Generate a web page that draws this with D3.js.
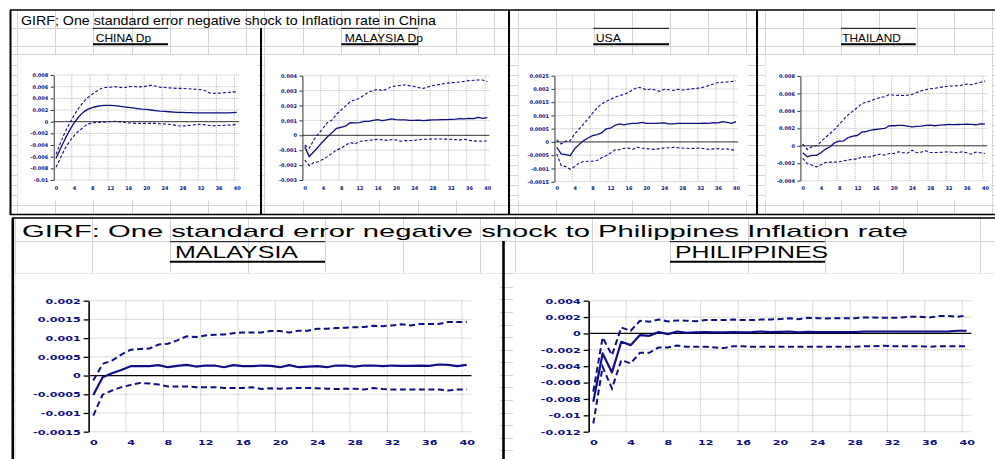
<!DOCTYPE html>
<html><head><meta charset="utf-8">
<script src="https://cdn.jsdelivr.net/npm/d3@7"></script>
<style>
html,body{margin:0;padding:0;background:#fff;}
svg{display:block;}
</style></head><body>
<svg id="c" width="995" height="459"></svg>
<script>
// ---------------- DATA ----------------
const periods = [0,1,2,3,4,5,6,7,8,9,10,11,12,13,14,15,16,17,18,19,20,21,22,23,24,25,26,27,28,29,30,31,32,33,34,35,36,37,38,39,40];
const xTickLabels = ["0","4","8","12","16","20","24","28","32","36","40"];
const topTitle = "GIRF; One standard error negative shock to Inflation rate in China";
const bottomTitle = "GIRF: One standard error negative shock to Philippines Inflation rate";

const chinaTicks = ["0.008","0.006","0.004","0.002","0","-0.002","-0.004","-0.006","-0.008","-0.01"];
const malaysiaDpTicks = ["0.004","0.003","0.002","0.001","0","-0.001","-0.002","-0.003"];
const usaTicks = ["0.0025","0.002","0.0015","0.001","0.0005","0","-0.0005","-0.001","-0.0015"];
const thailandTicks = ["0.008","0.006","0.004","0.002","0","-0.002","-0.004"];
const malaysiaTicks = ["0.002","0.0015","0.001","0.0005","0","-0.0005","-0.001","-0.0015"];
const philippinesTicks = ["0.004","0.002","0","-0.002","-0.004","-0.006","-0.008","-0.01","-0.012"];

const chinaMid = [-0.0063,-0.0046,-0.003,-0.0015,-0.0002,0.0008,0.0016,0.0021,0.0024,0.0026,0.00275,0.0028,0.0028,0.00275,0.00265,0.00255,0.00245,0.00235,0.00225,0.00215,0.0021,0.002,0.0019,0.0018,0.00175,0.0017,0.00165,0.0016,0.0016,0.00155,0.00155,0.0015,0.0015,0.0015,0.0015,0.0015,0.0015,0.0015,0.0015,0.00155,0.0016];
const chinaUp = [-0.0056,-0.0036,-0.0018,-0.0003,0.0011,0.0023,0.0033,0.0041,0.0047,0.0052,0.0057,0.00585,0.0059,0.006,0.0059,0.0058,0.006,0.00605,0.00595,0.006,0.0061,0.00625,0.0061,0.0059,0.00585,0.0058,0.00575,0.0057,0.0057,0.00565,0.0056,0.00555,0.0055,0.0053,0.0049,0.00485,0.0049,0.00495,0.005,0.0051,0.0051];
const chinaLo = [-0.0078,-0.0062,-0.0046,-0.0034,-0.0024,-0.0016,-0.001,-0.0004,-0.0002,-0.00015,-0.0001,-0.00005,0,0.00005,0,-0.0001,-0.0002,-0.00025,-0.0003,-0.0003,-0.0003,-0.0003,-0.0003,-0.00035,-0.0004,-0.00045,-0.00055,-0.0007,-0.00075,-0.0007,-0.0006,-0.0005,-0.00045,-0.00055,-0.00065,-0.0007,-0.00065,-0.00065,-0.0006,-0.00055,-0.0005];

const malaysiaDpMid = [-0.00076,-0.00143,-0.0011,-0.00076,-0.00042,-0.0001,0.00018,0.00047,0.00054,0.00063,0.00085,0.00084,0.00085,0.00094,0.00093,0.001,0.00105,0.00098,0.00104,0.0011,0.00105,0.00103,0.00103,0.001,0.001,0.00102,0.00098,0.00101,0.00103,0.00104,0.00105,0.00105,0.00107,0.00108,0.00112,0.0011,0.00114,0.00112,0.0012,0.00114,0.00118];
const malaysiaDpUp = [-0.00065,-0.00087,-0.0003,0.0001,0.00047,0.00085,0.00103,0.00143,0.0017,0.00197,0.00226,0.00237,0.00248,0.0027,0.0029,0.003,0.00309,0.003,0.00309,0.00327,0.00331,0.00335,0.00338,0.00333,0.00327,0.0032,0.00315,0.00325,0.00333,0.00338,0.00344,0.00349,0.00353,0.00355,0.00358,0.00362,0.00367,0.00369,0.00371,0.00371,0.0036];
const malaysiaDpLo = [-0.00166,-0.00204,-0.00183,-0.00177,-0.00161,-0.00143,-0.0012,-0.00098,-0.00087,-0.00065,-0.00049,-0.00058,-0.00042,-0.00036,-0.00034,-0.0003,-0.00027,-0.00031,-0.00034,-0.00029,-0.00031,-0.0004,-0.00036,-0.00035,-0.00034,-0.0003,-0.00027,-0.00026,-0.00025,-0.00025,-0.00025,-0.00026,-0.00027,-0.00029,-0.00031,-0.00027,-0.00034,-0.00037,-0.0004,-0.00039,-0.00038];

const usaMid = [-0.0002,-0.00045,-0.00048,-0.00052,-0.00026,-0.0001,0.00005,0.00015,0.00024,0.00028,0.00034,0.00049,0.00052,0.00063,0.00068,0.00064,0.00068,0.0007,0.0007,0.00074,0.0007,0.0007,0.0007,0.00071,0.00072,0.00068,0.00068,0.0007,0.0007,0.0007,0.0007,0.0007,0.0007,0.00071,0.0007,0.00073,0.00072,0.00077,0.00074,0.0007,0.00077];
const usaUp = [0.00008,-0.00008,0.00003,0.00005,0.0003,0.00049,0.00068,0.00087,0.00109,0.00128,0.00143,0.00153,0.0016,0.00169,0.00175,0.00179,0.00187,0.00197,0.00206,0.00204,0.00196,0.002,0.00196,0.00191,0.00199,0.00197,0.00194,0.00199,0.00196,0.00198,0.002,0.00202,0.00204,0.00208,0.00213,0.00219,0.00224,0.00225,0.00226,0.00228,0.00231];
const usaLo = [-0.00045,-0.00089,-0.00093,-0.00103,-0.00093,-0.0008,-0.00074,-0.00073,-0.00073,-0.0007,-0.0006,-0.00052,-0.00042,-0.0003,-0.00029,-0.00024,-0.00023,-0.00028,-0.0002,-0.00023,-0.00025,-0.00027,-0.00028,-0.00025,-0.00023,-0.00022,-0.0002,-0.00022,-0.00023,-0.00024,-0.00025,-0.00024,-0.00023,-0.00026,-0.00028,-0.00026,-0.00025,-0.00027,-0.00026,-0.00029,-0.00033];

const thailandMid = [-0.0008,-0.00126,-0.0011,-0.0011,-0.0008,-0.00038,-0.00011,0.00034,0.00053,0.00057,0.00095,0.0011,0.00118,0.00157,0.00164,0.0018,0.00187,0.00195,0.00199,0.0023,0.0023,0.00233,0.00233,0.00225,0.00218,0.00222,0.00225,0.00233,0.00237,0.0023,0.00237,0.0024,0.00244,0.00242,0.00244,0.00246,0.00248,0.00245,0.00241,0.00252,0.00248];
const thailandUp = [0.00019,-0.00042,-0.00011,0,0.00046,0.00096,0.00141,0.00187,0.00248,0.00302,0.00355,0.00397,0.00439,0.00485,0.005,0.00516,0.00539,0.00554,0.00562,0.00588,0.0058,0.00578,0.00577,0.0058,0.00588,0.0061,0.0063,0.00642,0.00653,0.0066,0.00669,0.00677,0.00684,0.00686,0.00688,0.00695,0.00707,0.007,0.00715,0.00728,0.00741];
const thailandLo = [-0.00145,-0.00203,-0.00222,-0.00241,-0.00218,-0.00191,-0.00187,-0.00187,-0.00183,-0.00172,-0.00164,-0.00153,-0.00153,-0.00126,-0.0013,-0.00126,-0.00107,-0.00096,-0.00107,-0.00088,-0.00088,-0.00069,-0.0008,-0.00084,-0.0005,-0.0008,-0.00073,-0.00057,-0.00076,-0.00076,-0.00076,-0.00072,-0.00069,-0.00075,-0.0008,-0.00069,-0.0008,-0.00096,-0.00073,-0.0008,-0.00088];

const malaysiaMid = [-0.00052,-0.000045,0.00006,0.00015,0.00025,0.00025,0.00025,0.000277,0.000223,0.000259,0.000286,0.000241,0.000268,0.000268,0.000223,0.000277,0.00025,0.00025,0.000268,0.000259,0.000223,0.000277,0.000223,0.000241,0.00025,0.000223,0.000268,0.000268,0.000241,0.000268,0.000268,0.00025,0.000268,0.000259,0.000259,0.000268,0.000259,0.000295,0.000286,0.00025,0.000286];
const malaysiaUp = [-0.00013,0.00031,0.0004,0.00056,0.00069,0.00071,0.00072,0.00083,0.00085,0.00094,0.00105,0.00103,0.00107,0.00109,0.0011,0.00113,0.00115,0.00115,0.00115,0.00119,0.00119,0.00115,0.0012,0.0012,0.00125,0.00125,0.00127,0.00128,0.00129,0.0013,0.00133,0.00132,0.00134,0.00137,0.00134,0.00138,0.00138,0.00138,0.00143,0.00143,0.00143];
const malaysiaLo = [-0.00107,-0.00051,-0.0004,-0.00031,-0.00025,-0.0002,-0.00021,-0.00024,-0.00029,-0.00029,-0.00029,-0.00031,-0.00031,-0.00031,-0.00033,-0.00033,-0.00033,-0.00031,-0.00036,-0.00034,-0.00035,-0.00034,-0.00033,-0.00033,-0.00034,-0.00035,-0.00036,-0.00035,-0.00035,-0.000375,-0.00033,-0.00036,-0.000375,-0.00037,-0.000375,-0.000375,-0.000375,-0.000375,-0.0004,-0.000375,-0.000375];

const philippinesMid = [-0.00835,-0.00244,-0.00476,-0.00102,-0.00143,-0.0002,-0.00029,0.00016,-0.00008,0.00024,0.00008,0.00012,0.00016,0.00012,0.00012,0.00016,0.00012,0.00016,0.00024,0.00016,0.0002,0.00024,0.00012,0.0002,0.00016,0.00016,0.00016,0.00016,0.00016,0.00024,0.00024,0.00024,0.00024,0.00024,0.00024,0.00024,0.00024,0.00024,0.00024,0.00033,0.00033];
const philippinesUp = [-0.0071,-0.00049,-0.00265,0.00073,0.00033,0.00155,0.00143,0.00171,0.00147,0.00159,0.00155,0.0015,0.00163,0.00163,0.00163,0.00171,0.00163,0.00163,0.00171,0.00171,0.00175,0.00187,0.00175,0.00191,0.00187,0.00183,0.00187,0.00187,0.00187,0.00195,0.00195,0.00191,0.00191,0.00195,0.00204,0.00204,0.00195,0.00212,0.00212,0.00204,0.0022];
const philippinesLo = [-0.011,-0.00407,-0.00672,-0.00326,-0.00366,-0.00236,-0.00236,-0.00171,-0.00171,-0.00147,-0.00163,-0.00163,-0.00163,-0.00171,-0.00179,-0.00155,-0.00155,-0.00163,-0.00163,-0.00163,-0.00163,-0.00163,-0.00163,-0.00163,-0.00163,-0.00163,-0.00163,-0.00163,-0.00163,-0.00155,-0.00155,-0.00151,-0.00155,-0.00155,-0.00155,-0.00155,-0.00163,-0.00155,-0.00155,-0.00155,-0.00155];

// ---------------- LAYOUT ----------------
const svg = d3.select("#c");
const NAVY = "#0e0e86";
const GRIDC = "#d4d4d4";
const SANS = "'Liberation Sans', Arial, sans-serif";
const BOLD = "'DejaVu Sans', Verdana, sans-serif";

// spreadsheet background grid
const sheet = svg.append("g").attr("stroke", GRIDC).attr("stroke-width", 1).attr("shape-rendering","crispEdges");
const topRows = [28, 46.5, 54.5];
for (let k = 0; k <= 14; k++) topRows.push(65 + 10.05 * k);
topRows.forEach(yy => sheet.append("line").attr("x1",10).attr("x2",995).attr("y1",yy).attr("y2",yy));
const topCols = [17,55.3,93.6,132,170,208.3,246.7, 264.7,303,341.3,379.7,418,456.3,494.7, 518.3,556.7,594.3,632,670,708.3,746, 765,803.3,841.3,879.3,917,954.3,992.3];
topCols.forEach(xx => sheet.append("line").attr("x1",xx).attr("x2",xx).attr("y1",10).attr("y2",214));
const botRows = [241.7, 273];
for (let k = 0; k <= 13; k++) botRows.push(287.3 + 12.57 * k);
botRows.forEach(yy => sheet.append("line").attr("x1",12).attr("x2",995).attr("y1",yy).attr("y2",yy));
const botCols = [15,92.7,170,248.3,325,403.3,480, 515,592.7,670,748.3,825,903.3,980];
botCols.forEach(xx => sheet.append("line").attr("x1",xx).attr("x2",xx).attr("y1",218).attr("y2",459));

// white chart areas
const areas = [[17.5,55,258,200],[266,55,507,200],[518.5,55,748,200],[765.5,55,992,200],[15.5,273.5,500,459],[513,273.5,995,459]];
areas.forEach(a => svg.append("rect").attr("x",a[0]).attr("y",a[1]).attr("width",a[2]-a[0]).attr("height",a[3]-a[1]).attr("fill","#fff"));

const panels = [
  {name:"CHINA Dp", ticks:chinaTicks, mid:chinaMid, up:chinaUp, lo:chinaLo, x0:56, x40:236.7, yTop:75, yBot:180, fs:5, sx:1, tick:3, xLabY:188.3, big:false},
  {name:"MALAYSIA Dp", ticks:malaysiaDpTicks, mid:malaysiaDpMid, up:malaysiaDpUp, lo:malaysiaDpLo, x0:304.7, x40:487.3, yTop:75.7, yBot:180, fs:5, sx:1, tick:3, xLabY:188.3, big:false},
  {name:"USA", ticks:usaTicks, mid:usaMid, up:usaUp, lo:usaLo, x0:556.7, x40:736, yTop:75.7, yBot:181.7, fs:5, sx:1, tick:3, xLabY:188.3, big:false},
  {name:"THAILAND", ticks:thailandTicks, mid:thailandMid, up:thailandUp, lo:thailandLo, x0:802.7, x40:985, yTop:76, yBot:180.7, fs:5, sx:1, tick:3, xLabY:188.3, big:false},
  {name:"MALAYSIA", ticks:malaysiaTicks, mid:malaysiaMid, up:malaysiaUp, lo:malaysiaLo, x0:93.3, x40:466.7, yTop:300.7, yBot:431.7, fs:7.2, sx:1.55, tick:5, xLabY:442.3, big:true},
  {name:"PHILIPPINES", ticks:philippinesTicks, mid:philippinesMid, up:philippinesUp, lo:philippinesLo, x0:593.3, x40:966.7, yTop:300.7, yBot:431.7, fs:7.2, sx:1.55, tick:5, xLabY:442.3, big:true}
];

function drawChart(p) {
  const g = svg.append("g");
  const x = d3.scaleLinear().domain([0, 40]).range([p.x0, p.x40]);
  const tv = p.ticks.map(Number);
  const y = d3.scaleLinear().domain([d3.min(tv), d3.max(tv)]).range([p.yBot, p.yTop]);
  const xL = x(-0.5), xR = x(40.5);

  // dotted gridlines
  const gg = g.append("g").attr("stroke", "#a8a8a8").attr("stroke-width", 0.8).attr("stroke-dasharray", "1,1");
  tv.forEach(v => { if (v !== 0) gg.append("line").attr("x1", xL).attr("x2", xR).attr("y1", y(v)).attr("y2", y(v)); });
  for (let k = 1; k <= 10; k++) {
    const xv = x(-0.5 + 4 * k);
    gg.append("line").attr("x1", xv).attr("x2", xv).attr("y1", p.yTop).attr("y2", p.yBot);
  }

  // zero axis line
  g.append("line").attr("x1", xL).attr("x2", xR).attr("y1", y(0)).attr("y2", y(0))
    .attr("stroke", p.big ? "#000" : "#333").attr("stroke-width", p.big ? 1.2 : 1);

  // y axis
  const pad = p.big ? 3 : 2.5;
  const ya = g.append("g").attr("transform", `translate(${xL},0)`)
    .call(d3.axisLeft(y).tickValues(tv).tickFormat((d, i) => p.ticks[i]).tickSize(p.tick).tickSizeOuter(0).tickPadding(pad));
  ya.select(".domain").attr("stroke", p.big ? "#000" : "#333").attr("stroke-width", p.big ? 1.6 : 1);
  ya.selectAll(".tick line").attr("stroke", p.big ? "#000" : "#333").attr("stroke-width", p.big ? 1.3 : 1);
  ya.selectAll(".tick text")
    .attr("fill", NAVY).attr("font-family", BOLD).attr("font-weight", "bold").attr("font-size", p.fs)
    .attr("x", -(p.tick + pad) / p.sx).attr("transform", `scale(${p.sx},1)`);

  // x axis labels (bottom)
  const xa = g.append("g").attr("transform", `translate(0,${p.yBot})`)
    .call(d3.axisBottom(x).tickValues(xTickLabels.map(Number)).tickFormat((d, i) => xTickLabels[i]).tickSize(0).tickPadding(p.xLabY - p.yBot - 0.36 * p.fs));
  xa.select(".domain").remove();
  xa.selectAll(".tick text")
    .attr("fill", NAVY).attr("font-family", BOLD).attr("font-weight", "bold").attr("font-size", p.fs)
    .attr("transform", `scale(${p.sx},1)`);

  // series
  const line = d3.line().x((d, i) => x(periods[i])).y(d => y(d));
  const dashW = p.big ? 2 : 1.1, solidW = p.big ? 2.2 : 1.3;
  const dash = p.big ? "6,3.5" : "3,2";
  g.append("path").datum(p.up).attr("d", line).attr("fill", "none").attr("stroke", NAVY).attr("stroke-width", dashW).attr("stroke-dasharray", dash);
  g.append("path").datum(p.lo).attr("d", line).attr("fill", "none").attr("stroke", NAVY).attr("stroke-width", dashW).attr("stroke-dasharray", dash);
  g.append("path").datum(p.mid).attr("d", line).attr("fill", "none").attr("stroke", NAVY).attr("stroke-width", solidW).attr("stroke-linejoin", "round");
}
panels.forEach(drawChart);

// ---------- black borders ----------
const bl = svg.append("g").attr("stroke", "#000").attr("fill", "none");
function L(x1, y1, x2, y2, w) { bl.append("line").attr("x1", x1).attr("y1", y1).attr("x2", x2).attr("y2", y2).attr("stroke-width", w); }
L(10, 10, 995, 10, 1.6);
L(10.5, 10, 10.5, 215, 2);
L(261, 28, 261, 215, 2);
L(509, 10, 509, 215, 2);
L(757, 10, 757, 215, 2);
L(10, 214.5, 995, 214.5, 1.6);
L(12, 218, 995, 218, 1.6);
L(12.8, 218, 12.8, 459, 2.6);
L(503.5, 241, 503.5, 459, 2.6);

// sub-title boxes
const boxes = [
  {label:"CHINA Dp", x1:93, x2:168, tx:95.7, tw:55.5, yt:28.3, yb:44.3, ty:41.7, fs:11.5},
  {label:"MALAYSIA Dp", x1:341.3, x2:418, tx:344.7, tw:78.3, yt:28.3, yb:44.3, ty:41.7, fs:11.5},
  {label:"USA", x1:593.3, x2:669, tx:595.7, tw:25.3, yt:28.3, yb:44.3, ty:41.7, fs:11.5},
  {label:"THAILAND", x1:841, x2:915.7, tx:842.3, tw:58.4, yt:28.3, yb:44.3, ty:41.7, fs:11.5},
  {label:"MALAYSIA", x1:170, x2:325, tx:175, tw:123, yt:241.7, yb:261.7, ty:257.7, fs:16.5},
  {label:"PHILIPPINES", x1:670, x2:825, tx:675, tw:153, yt:241.7, yb:261.7, ty:257.7, fs:16.5}
];
boxes.forEach(b => {
  L(b.x1, b.yt, b.x2, b.yt, 1);
  L(b.x1, b.yb, b.x2, b.yb, 2);
  svg.append("text").attr("x", b.tx).attr("y", b.ty).attr("font-family", SANS).attr("font-size", b.fs)
    .attr("fill", "#000").attr("textLength", b.tw).attr("lengthAdjust", "spacingAndGlyphs").text(b.label);
});

// main titles
svg.append("text").attr("x", 21).attr("y", 25).attr("font-family", SANS).attr("font-size", 13)
  .attr("textLength", 415).attr("lengthAdjust", "spacingAndGlyphs").text(topTitle);
svg.append("text").attr("x", 22).attr("y", 237.3).attr("font-family", SANS).attr("font-size", 17)
  .attr("textLength", 886).attr("lengthAdjust", "spacingAndGlyphs").text(bottomTitle);
</script>
</body></html>
